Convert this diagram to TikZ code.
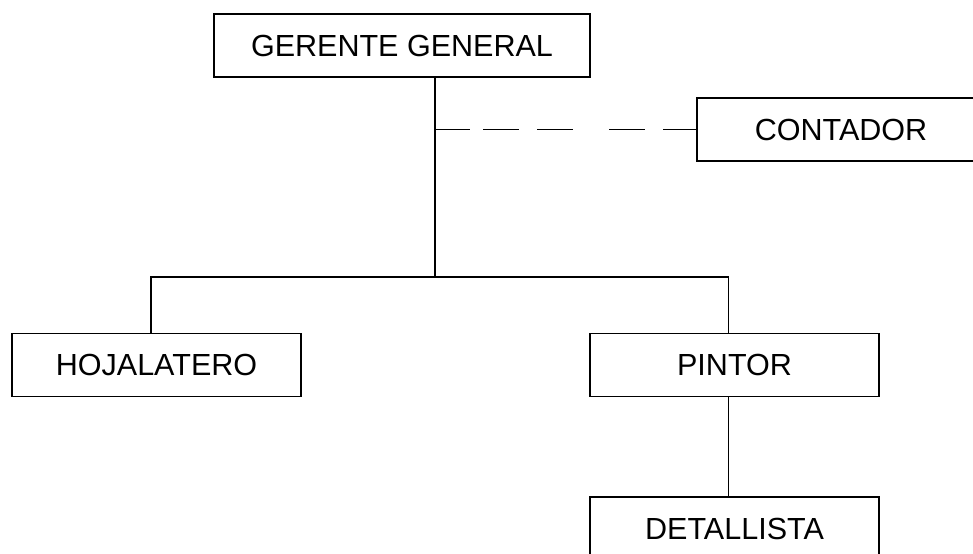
\documentclass[tikz,border=0pt]{standalone}
\usepackage{fontspec}
\setmainfont{Liberation Sans}
\usetikzlibrary{positioning,calc}

\begin{document}
\begin{tikzpicture}[x=0.75pt, y=-0.75pt,
    puesto/.style={draw, line width=1.1pt, inner sep=0pt, minimum height=47pt,
      font=\fontsize{22.9}{27}\selectfont},
    enlace/.style={line width=1.1pt}]
    \clip (0,0) rectangle (973,553);

    \node[puesto, minimum width=282pt] (gerente) at (402,45.5) {GERENTE GENERAL};
    \node[puesto, minimum width=216pt] (contador) at (841,129.5) {CONTADOR};
    \node[puesto, minimum width=217pt] (hojalatero) at (156.5,365) {HOJALATERO};
    \node[puesto, minimum width=217pt] (pintor) at (734.5,365) {PINTOR};
    \node[puesto, minimum width=217pt] (detallista) at (734.5,528.5) {DETALLISTA};

    \coordinate (rama) at (435,277);
    \coordinate (izq) at (151,277);
    \coordinate (der) at (728.5,277);

    \draw[enlace] (rama |- gerente.south) -- (rama);
    \draw[enlace] (izq |- hojalatero.north) -- (izq) -- (der) -- (der |- pintor.north);
    \draw[enlace] (der |- pintor.south) -- (der |- detallista.north);
    \draw[enlace, dash pattern=on 26pt off 10pt on 27pt off 13.5pt on 27pt off 27pt on 27pt off 13.5pt on 30pt]
      (rama |- contador.west) -- (contador.west);
  \end{tikzpicture}
\end{document}
